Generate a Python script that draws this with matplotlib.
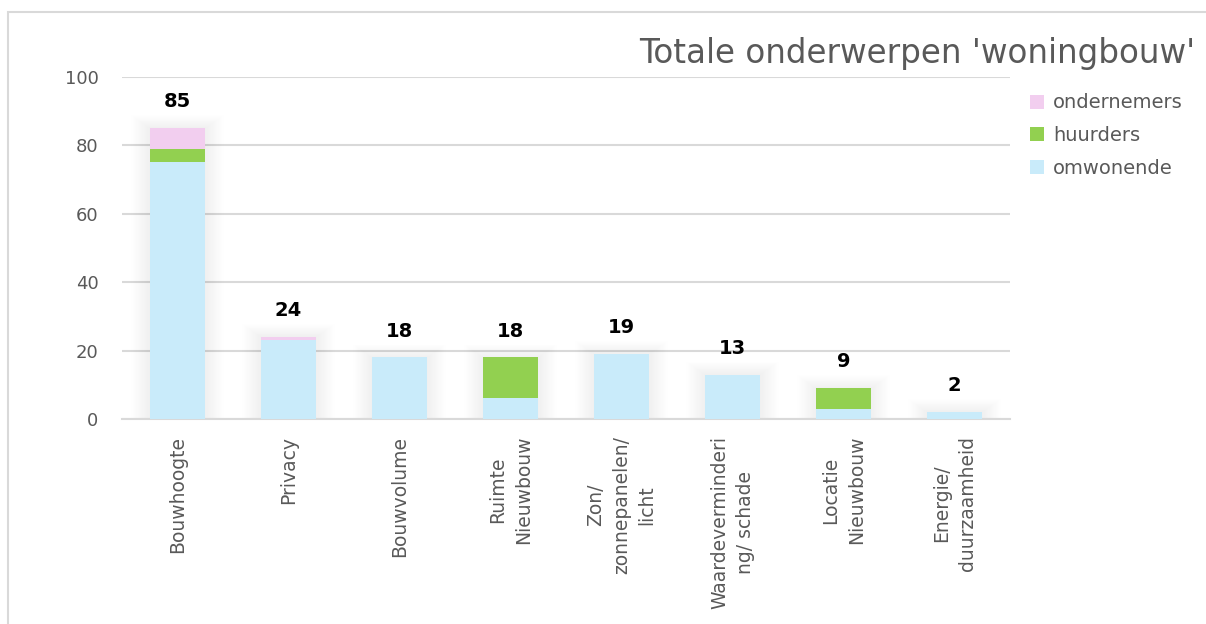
import numpy as np
import matplotlib.pyplot as plt
from matplotlib.patches import Rectangle

categories = ['Bouwhoogte', 'Privacy', 'Bouwvolume', 'Ruimte\nNieuwbouw',
              'Zon/\nzonnepanelen/\nlicht', 'Waardeverminderi\nng/ schade',
              'Locatie\nNieuwbouw', 'Energie/\nduurzaamheid']
omwonende = [75, 23, 18, 6, 19, 13, 3, 2]
huurders = [4, 0, 0, 12, 0, 0, 6, 0]
ondernemers = [6, 1, 0, 0, 0, 0, 0, 0]

c_omw = '#C9EBFA'
c_huur = '#92D050'
c_ond = '#F2CEEF'
grey = '#595959'

plt.rcParams['font.family'] = ['DejaVu Sans']

fig = plt.figure(figsize=(12.06, 6.24), dpi=100)
ax = fig.add_axes([122 / 1206, 1 - 419 / 624, 888 / 1206, 342 / 624])

x = np.arange(len(categories))
om = np.array(omwonende)
hu = np.array(huurders)
on = np.array(ondernemers)
total = om + hu + on

# soft shadow around the bars (excel glow effect)
for k in range(1, 16):
    ax.bar(x, total + 0.25 * k, width=0.5 + 0.022 * k,
           color='black', alpha=0.005, zorder=1, linewidth=0)

ax.bar(x, om, width=0.5, color=c_omw, label='omwonende', zorder=3)
ax.bar(x, hu, width=0.5, bottom=om, color=c_huur, label='huurders', zorder=3)
ax.bar(x, on, width=0.5, bottom=om + hu, color=c_ond, label='ondernemers', zorder=3)

for xi, t in zip(x, total):
    ax.annotate(str(t), (xi, t), xytext=(0, 19), textcoords='offset points',
                ha='center', va='center', fontsize=14, fontweight='bold',
                color='black', zorder=4)

ax.set_xlim(-0.5, len(categories) - 0.5)
ax.set_ylim(0, 100)
ax.set_yticks([0, 20, 40, 60, 80, 100])
ax.yaxis.grid(True, color='#d9d9d9', linewidth=1.5, zorder=0)
ax.set_axisbelow(True)
for s in ['top', 'right', 'left']:
    ax.spines[s].set_visible(False)
ax.spines['bottom'].set_color('#d9d9d9')
ax.spines['bottom'].set_linewidth(1.5)
ax.tick_params(axis='both', length=0, colors=grey, labelsize=13)
ax.tick_params(axis='y', pad=17)
ax.set_xticks(x)
ax.set_xticklabels(categories, rotation=90, va='top', ha='center',
                   multialignment='center', fontsize=13.5, color=grey,
                   linespacing=1.45)
ax.tick_params(axis='x', pad=12)

handles, labels = ax.get_legend_handles_labels()
leg = fig.legend(handles[::-1], labels[::-1], loc='upper left',
                 bbox_to_anchor=(1012 / 1206, 1 - 76 / 624), frameon=False,
                 fontsize=14, handlelength=0.75, handleheight=0.75,
                 handletextpad=0.45, labelspacing=0.7, labelcolor=grey)

fig.text(1195 / 1206, 1 - 53 / 624, "Totale onderwerpen 'woningbouw'",
         ha='right', va='center', fontsize=23.5, color=grey)

fig.patches.append(Rectangle((8 / 1206, -0.1), 1.2, 1 - 12 / 624 + 0.1,
                             transform=fig.transFigure, fill=False,
                             edgecolor='#d9d9d9', linewidth=1.5))

fig.savefig('out.png', dpi=100)
